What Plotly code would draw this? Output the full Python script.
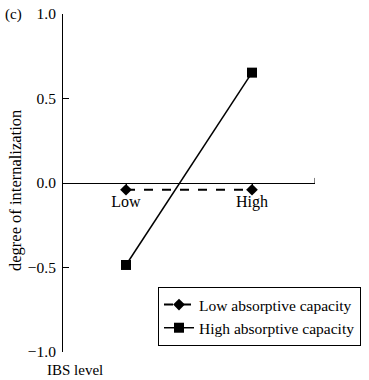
import plotly.graph_objects as go

categories = [0, 1]
category_labels = ["Low", "High"]
low_absorptive = [-0.04, -0.04]
high_absorptive = [-0.485, 0.653]
y_tick_vals = [-1.0, -0.5, 0.0, 0.5, 1.0]
y_tick_text = ["\u22121.0", "\u22120.5", "0.0", "0.5", "1.0"]

FONT = "Liberation Serif"

fig = go.Figure()
fig.add_trace(go.Scatter(
    x=categories, y=low_absorptive, mode="lines+markers",
    name="Low absorptive capacity",
    line=dict(color="black", width=2, dash="dash"),
    marker=dict(symbol="diamond", size=9, color="black"),
))
fig.add_trace(go.Scatter(
    x=categories, y=high_absorptive, mode="lines+markers",
    name="High absorptive capacity",
    line=dict(color="black", width=1.5),
    marker=dict(symbol="square", size=10, color="black"),
))

fig.update_layout(
    width=369, height=380,
    margin=dict(l=63, r=54, t=14, b=28, autoexpand=False),
    paper_bgcolor="white", plot_bgcolor="white",
    font=dict(family=FONT, size=15, color="black"),
    showlegend=True,
    legend=dict(
        x=(361 - 63) / 252, y=(352 - 287) / 338, xanchor="right", yanchor="top",
        bordercolor="black", borderwidth=1, bgcolor="white",
        font=dict(family=FONT, size=15.5, color="black"),
        tracegroupgap=0, itemwidth=30,
    ),
    xaxis=dict(
        range=[-0.5, 1.5], anchor="free", position=0.5,
        showline=True, linecolor="black", linewidth=1,
        ticks="outside", ticklen=4, tickcolor="black",
        tickvals=categories, ticktext=category_labels,
        showgrid=False, zeroline=False,
        tickfont=dict(family=FONT, size=16, color="black"),
    ),
    yaxis=dict(
        range=[-1, 1], showline=True, linecolor="black", linewidth=1,
        ticks="inside", ticklen=6, tickcolor="black",
        tickvals=y_tick_vals, ticktext=y_tick_text,
        showgrid=False, zeroline=False, ticklabelstandoff=3,
        tickfont=dict(family=FONT, size=15.5, color="black"),
    ),
)

# small end tick at right end of x axis line
fig.add_shape(type="line", xref="x", yref="y", x0=1.5, x1=1.5, y0=0, y1=0.03,
              line=dict(color="black", width=1))

fig.add_annotation(text="(c)", xref="paper", yref="paper", x=(3 - 63) / 252,
                   y=1, xanchor="left", yanchor="middle", showarrow=False,
                   font=dict(family=FONT, size=15, color="black"))
fig.add_annotation(text="IBS level", xref="paper", yref="paper", x=(45 - 63) / 252,
                   y=-(370 - 352) / 338, xanchor="left", yanchor="middle", showarrow=False,
                   font=dict(family=FONT, size=15, color="black"))
fig.add_annotation(text="degree of internalization", xref="paper", yref="paper",
                   x=(15 - 63) / 252, y=(352 - 191) / 338, textangle=-90,
                   xanchor="center", yanchor="middle", showarrow=False,
                   font=dict(family=FONT, size=16.5, color="black"))

fig.write_html("out.html", config={"displayModeBar": False},
               post_script="document.body.style.margin='0px';")
